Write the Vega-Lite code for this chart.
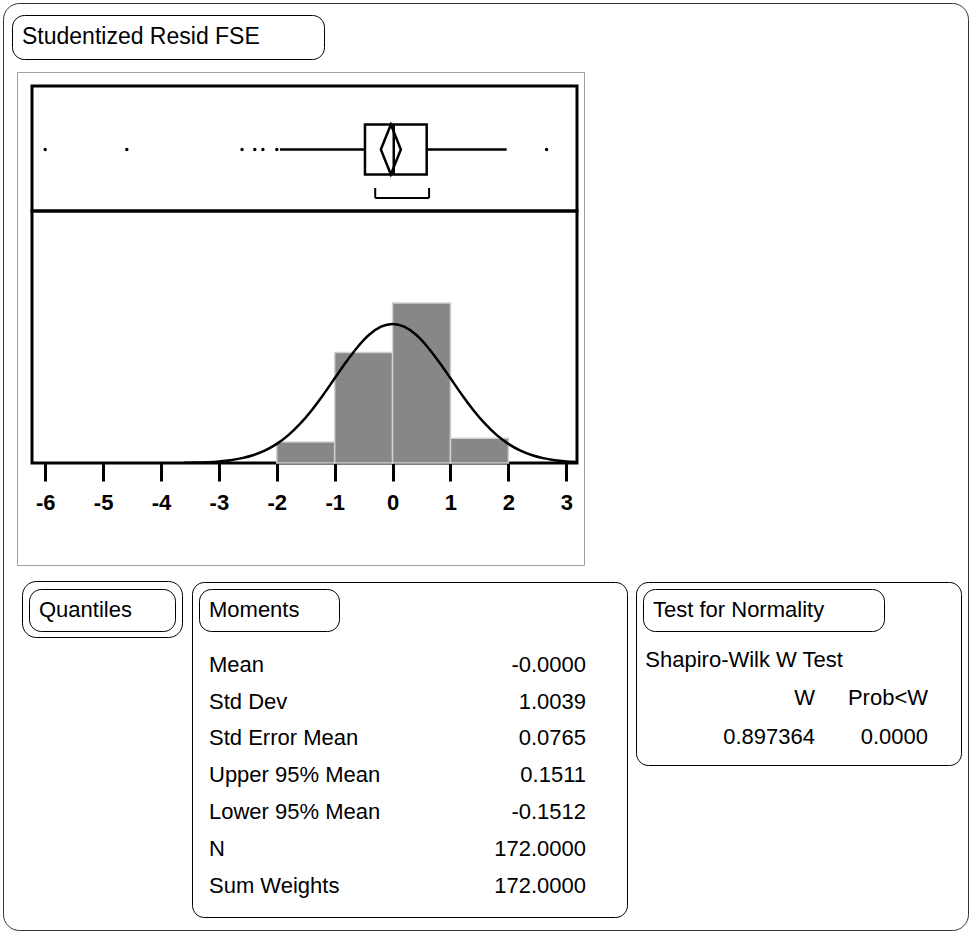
{
  "$schema": "https://vega.github.io/schema/vega-lite/v6.json",
  "background": "white",
  "padding": {"left": 2, "top": 2, "right": 2, "bottom": 5},
  "config": {
    "font": "Liberation Sans",
    "view": {"stroke": null},
    "legend": {"labelFont": "Liberation Sans", "labelColor": "black"}
  },
  "datasets": {
    "boxstats": [
      {"variable": "Studentized Resid FSE", "q1": -0.477, "median": 0.02, "q3": 0.589, "lo": -1.945, "hi": 1.97, "mean": -0.03, "short_lo": -0.30, "short_hi": 0.63}
    ],
    "outliers": [
      {"value": -6.0}, {"value": -4.59}, {"value": -2.60}, {"value": -2.38}, {"value": -2.24}, {"value": -2.0}, {"value": 2.66}
    ],
    "hist": [
      {"bin_start": -2, "bin_end": -1, "count": 11},
      {"bin_start": -1, "bin_end": 0, "count": 58},
      {"bin_start": 0, "bin_end": 1, "count": 84},
      {"bin_start": 1, "bin_end": 2, "count": 13}
    ],
    "curve": [
      {"x": -3.6, "density": 0.12}, {"x": -3.4, "density": 0.24}, {"x": -3.2, "density": 0.45}, {"x": -3.0, "density": 0.84},
      {"x": -2.8, "density": 1.49}, {"x": -2.6, "density": 2.55}, {"x": -2.4, "density": 4.19}, {"x": -2.2, "density": 6.61},
      {"x": -2.0, "density": 10.03}, {"x": -1.8, "density": 14.63}, {"x": -1.6, "density": 20.5}, {"x": -1.4, "density": 27.61},
      {"x": -1.2, "density": 35.74}, {"x": -1.0, "density": 44.45}, {"x": -0.8, "density": 53.14}, {"x": -0.6, "density": 61.06},
      {"x": -0.4, "density": 67.43}, {"x": -0.2, "density": 71.56}, {"x": 0.0, "density": 73.0}, {"x": 0.2, "density": 71.56},
      {"x": 0.4, "density": 67.43}, {"x": 0.6, "density": 61.06}, {"x": 0.8, "density": 53.14}, {"x": 1.0, "density": 44.45},
      {"x": 1.2, "density": 35.74}, {"x": 1.4, "density": 27.61}, {"x": 1.6, "density": 20.5}, {"x": 1.8, "density": 14.63},
      {"x": 2.0, "density": 10.03}, {"x": 2.2, "density": 6.61}, {"x": 2.4, "density": 4.19}, {"x": 2.6, "density": 2.55},
      {"x": 2.8, "density": 1.49}, {"x": 3.0, "density": 0.84}, {"x": 3.2, "density": 0.45}
    ],
    "moments": [
      {"panel": "Moments", "stat": "Mean", "value": "-0.0000"},
      {"panel": "Moments", "stat": "Std Dev", "value": "1.0039"},
      {"panel": "Moments", "stat": "Std Error Mean", "value": "0.0765"},
      {"panel": "Moments", "stat": "Upper 95% Mean", "value": "0.1511"},
      {"panel": "Moments", "stat": "Lower 95% Mean", "value": "-0.1512"},
      {"panel": "Moments", "stat": "N", "value": "172.0000"},
      {"panel": "Moments", "stat": "Sum Weights", "value": "172.0000"}
    ],
    "normality": [
      {"panel": "Test for Normality", "row": "title", "col": "label", "text": "Shapiro-Wilk W Test"},
      {"panel": "Test for Normality", "row": "header", "col": "W", "text": "W"},
      {"panel": "Test for Normality", "row": "header", "col": "Prob<W", "text": "Prob<W"},
      {"panel": "Test for Normality", "row": "value", "col": "W", "text": "0.897364"},
      {"panel": "Test for Normality", "row": "value", "col": "Prob<W", "text": "0.0000"}
    ],
    "quantiles": [{"panel": "Quantiles", "frame": "Quantiles", "report": "Distribution report", "plotframe": "Plot frame"}]
  },
  "spacing": 0,
  "bounds": "flush",
  "resolve": {"scale": {"color": "independent"}, "legend": {"color": "independent"}},
  "vconcat": [
    {
      "width": 545, "height": 125,
      "view": {"stroke": "black", "strokeWidth": 3},
      "data": {"name": "boxstats"},
      "layer": [
        {
          "mark": {"type": "rule", "color": "black", "strokeWidth": 2.5},
          "encoding": {
            "x": {"field": "lo", "type": "quantitative", "scale": {"domain": [-6.228, 3.185], "nice": false, "zero": false}, "axis": null},
            "x2": {"field": "q1"},
            "y": {"datum": 0, "type": "quantitative", "scale": {"domain": [-2.46, 2.54], "nice": false, "zero": false}, "axis": null}
          }
        },
        {
          "mark": {"type": "rule", "color": "black", "strokeWidth": 2.5},
          "encoding": {
            "x": {"field": "q3", "type": "quantitative"},
            "x2": {"field": "hi"},
            "y": {"datum": 0, "type": "quantitative"}
          }
        },
        {
          "mark": {"type": "rect", "fill": "white", "strokeWidth": 2.5},
          "encoding": {
            "x": {"field": "q1", "type": "quantitative"},
            "x2": {"field": "q3"},
            "y": {"datum": -1, "type": "quantitative"},
            "y2": {"datum": 1},
            "stroke": {
              "field": "variable", "type": "nominal",
              "scale": {"range": ["black"]},
              "legend": {
                "orient": "none", "legendX": -20, "legendY": -71, "title": null,
                "strokeColor": "black", "cornerRadius": 12, "padding": 10,
                "labelFontSize": 23, "labelLimit": 800, "labelOffset": -23,
                "symbolOpacity": 0, "symbolSize": 0, "symbolStrokeWidth": 0,
                "labelExpr": "datum.label + '\u2003\u2003\u2004\u200b'"
              }
            }
          }
        },
        {
          "mark": {"type": "rule", "color": "black", "strokeWidth": 2.5},
          "encoding": {
            "x": {"field": "median", "type": "quantitative"},
            "y": {"datum": -1, "type": "quantitative"},
            "y2": {"datum": 1}
          }
        },
        {
          "mark": {"type": "point", "shape": "M-0.4,0L0,-1L0.4,0L0,1Z", "size": 2500, "filled": false, "color": "black", "strokeWidth": 2.5, "opacity": 1},
          "encoding": {
            "x": {"field": "mean", "type": "quantitative"},
            "y": {"datum": 0, "type": "quantitative"}
          }
        },
        {
          "mark": {"type": "rule", "color": "black", "strokeWidth": 2},
          "encoding": {
            "x": {"field": "short_lo", "type": "quantitative"},
            "x2": {"field": "short_hi"},
            "y": {"datum": -1.94, "type": "quantitative"}
          }
        },
        {
          "transform": [{"fold": ["short_lo", "short_hi"], "as": ["end", "xv"]}],
          "mark": {"type": "rule", "color": "black", "strokeWidth": 2},
          "encoding": {
            "x": {"field": "xv", "type": "quantitative"},
            "y": {"datum": -1.94, "type": "quantitative"},
            "y2": {"datum": -1.54}
          }
        },
        {
          "data": {"name": "outliers"},
          "mark": {"type": "circle", "color": "black", "size": 12, "opacity": 1},
          "encoding": {
            "x": {"field": "value", "type": "quantitative"},
            "y": {"datum": 0, "type": "quantitative"}
          }
        }
      ]
    },
    {
      "width": 545, "height": 252,
      "view": {"stroke": "black", "strokeWidth": 3},
      "layer": [
        {
          "data": {"name": "hist"},
          "mark": {"type": "rect", "fill": "#878787", "stroke": "#d0d0d0", "strokeWidth": 1.5},
          "encoding": {
            "x": {
              "field": "bin_start", "type": "quantitative",
              "scale": {"domain": [-6.228, 3.185], "nice": false, "zero": false},
              "axis": {
                "values": [-6, -5, -4, -3, -2, -1, 0, 1, 2, 3], "title": null, "domain": false, "grid": false,
                "tickSize": 18, "tickWidth": 3, "tickColor": "black",
                "labelFontSize": 22, "labelFontWeight": "bold", "labelColor": "black", "labelPadding": 11, "labelFlush": false,
                "labelFont": "Liberation Sans",
                "labelExpr": "datum.value < 0 ? '-' + abs(datum.value) : '' + datum.value"
              }
            },
            "x2": {"field": "bin_end"},
            "y": {"field": "count", "type": "quantitative", "scale": {"domain": [0, 132.3], "nice": false}, "axis": null},
            "y2": {"datum": 0}
          }
        },
        {
          "data": {"name": "curve"},
          "mark": {"type": "line", "color": "black", "strokeWidth": 2.5, "interpolate": "monotone", "clip": true},
          "encoding": {
            "x": {"field": "x", "type": "quantitative"},
            "y": {"field": "density", "type": "quantitative"}
          }
        }
      ]
    },
    {"width": 1, "height": 119, "data": {"values": []}, "mark": "point"},
    {
      "spacing": 9,
      "bounds": "flush",
      "resolve": {"scale": {"color": "independent"}, "legend": {"color": "independent"}},
      "hconcat": [
        {"width": 151, "height": 1, "data": {"values": []}, "mark": "point"},
        {
          "width": 435, "height": 335,
          "view": {"stroke": "black", "strokeWidth": 1, "cornerRadius": 12},
          "data": {"name": "moments"},
          "layer": [
            {
              "mark": {"type": "text", "align": "left", "baseline": "alphabetic", "fontSize": 22},
              "encoding": {
                "x": {"datum": "Statistic", "type": "nominal", "scale": {"type": "point", "domain": ["Statistic", "Value"], "range": [17, 394], "padding": 0}, "axis": null},
                "y": {"field": "stat", "type": "nominal", "sort": null, "scale": {"type": "point", "domain": ["Mean", "Std Dev", "Std Error Mean", "Upper 95% Mean", "Lower 95% Mean", "N", "Sum Weights"], "range": [89.7, 311], "padding": 0}, "axis": null},
                "text": {"field": "stat"},
                "color": {
                  "field": "panel", "type": "nominal", "scale": {"range": ["black"]},
                  "legend": {
                    "orient": "top-left", "offset": 7, "title": null,
                    "strokeColor": "black", "cornerRadius": 12, "padding": 10,
                    "labelFontSize": 22, "labelLimit": 800, "labelOffset": -22,
                    "symbolOpacity": 0, "symbolSize": 0, "symbolStrokeWidth": 0,
                    "labelExpr": "datum.label + '\u2003\u2005\u200a\u200b'"
                  }
                }
              }
            },
            {
              "mark": {"type": "text", "align": "right", "baseline": "alphabetic", "fontSize": 22, "color": "black"},
              "encoding": {
                "x": {"datum": "Value", "type": "nominal"},
                "y": {"field": "stat", "type": "nominal", "sort": null},
                "text": {"field": "value"}
              }
            },
            {
              "data": {"name": "quantiles"},
              "mark": {"type": "point", "opacity": 0},
              "encoding": {
                "shape": {
                  "field": "panel", "type": "nominal", "scale": {"range": ["circle"]},
                  "legend": {
                    "orient": "none", "legendX": -3, "legendY": 503, "title": null,
                    "strokeColor": "black", "cornerRadius": 12, "padding": 10,
                    "labelFontSize": 22, "labelLimit": 800, "labelOffset": -22,
                    "symbolOpacity": 0, "symbolSize": 0, "symbolStrokeWidth": 0,
                    "labelExpr": "datum.label + '\u2003\u2002\u200b'"
                  }
                },
                "strokeDash": {
                  "field": "frame", "type": "nominal", "scale": {"range": [[1, 0]]},
                  "legend": {
                    "orient": "none", "legendX": -10, "legendY": 495, "title": null,
                    "strokeColor": "black", "cornerRadius": 14, "padding": 17,
                    "labelFontSize": 22, "labelLimit": 800, "labelOffset": -22, "labelOpacity": 0,
                    "symbolOpacity": 0, "symbolSize": 0, "symbolStrokeWidth": 0,
                    "labelExpr": "datum.label + '\u2003\u2002\u200b'"
                  }
                },
                "size": {
                  "field": "report", "type": "ordinal", "scale": {"range": [10]},
                  "legend": {
                    "orient": "none", "legendX": -29, "legendY": -83, "title": null,
                    "strokeColor": "#333333", "cornerRadius": 16, "padding": 461,
                    "labelFontSize": 10, "labelLimit": 800, "labelOffset": -10, "labelOpacity": 0,
                    "symbolOpacity": 0, "symbolSize": 0, "symbolStrokeWidth": 0,
                    "labelExpr": "'\u200b\u2003\u2003\u2003\u2003\u2005\u200b'"
                  }
                },
                "opacity": {
                  "field": "plotframe", "type": "ordinal", "scale": {"range": [0]},
                  "legend": {
                    "orient": "none", "legendX": -15, "legendY": -14, "title": null,
                    "strokeColor": "#a0a0a0", "cornerRadius": 0, "padding": 241.5,
                    "labelFontSize": 10, "labelLimit": 800, "labelOffset": -10, "labelOpacity": 0,
                    "symbolOpacity": 0, "symbolSize": 0, "symbolStrokeWidth": 0,
                    "labelExpr": "'\u200b\u2003\u2003\u2003\u2003\u2003\u2003\u2003\u2003\u2004\u200b'"
                  }
                }
              }
            }
          ]
        },
        {
          "width": 325, "height": 183,
          "view": {"stroke": "black", "strokeWidth": 1, "cornerRadius": 12},
          "data": {"name": "normality"},
          "resolve": {"scale": {"x": "independent"}},
          "layer": [
            {
              "transform": [{"filter": "datum.col === 'label'"}],
              "mark": {"type": "text", "align": "left", "baseline": "alphabetic", "fontSize": 22},
              "encoding": {
                "x": {"field": "col", "type": "nominal", "scale": {"type": "point", "domain": ["label", "end"], "range": [9.3, 300], "padding": 0}, "axis": null},
                "y": {"field": "row", "type": "nominal", "scale": {"type": "point", "domain": ["title", "header", "value"], "range": [84.7, 162], "padding": 0}, "axis": null},
                "text": {"field": "text"},
                "color": {
                  "field": "panel", "type": "nominal", "scale": {"range": ["black"]},
                  "legend": {
                    "orient": "top-left", "offset": 7, "title": null,
                    "strokeColor": "black", "cornerRadius": 12, "padding": 10,
                    "labelFontSize": 22, "labelLimit": 800, "labelOffset": -22,
                    "symbolOpacity": 0, "symbolSize": 0, "symbolStrokeWidth": 0,
                    "labelExpr": "datum.label + '\u2003\u2003\u2005\u200b'"
                  }
                }
              }
            },
            {
              "transform": [{"filter": "datum.col !== 'label'"}],
              "mark": {"type": "text", "align": "right", "baseline": "alphabetic", "fontSize": 22, "color": "black"},
              "encoding": {
                "x": {"field": "col", "type": "nominal", "scale": {"type": "point", "domain": ["W", "Prob<W"], "range": [179, 292], "padding": 0}, "axis": null},
                "y": {"field": "row", "type": "nominal"},
                "text": {"field": "text"}
              }
            }
          ]
        }
      ]
    }
  ]
}
